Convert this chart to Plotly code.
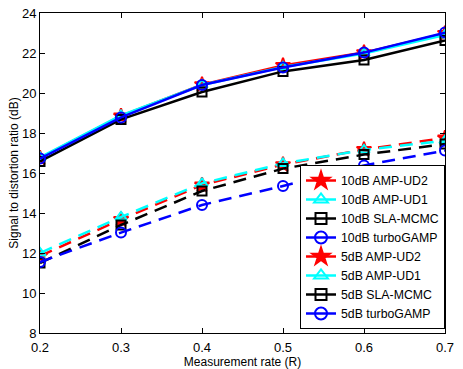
import plotly.graph_objects as go

rates = [0.2, 0.3, 0.4, 0.5, 0.6, 0.7]

amp_ud2_10 = [16.75, 18.85, 20.42, 21.38, 22.02, 22.98]
amp_ud1_10 = [16.78, 18.88, 20.40, 21.30, 21.97, 22.90]
sla_10 = [16.58, 18.68, 20.05, 21.08, 21.65, 22.63]
turbo_10 = [16.72, 18.78, 20.40, 21.27, 22.02, 23.02]

amp_ud2_5 = [11.85, 13.68, 15.40, 16.42, 17.18, 17.75]
amp_ud1_5 = [12.00, 13.80, 15.48, 16.48, 17.15, 17.62]
sla_5 = [11.50, 13.40, 15.10, 16.22, 16.92, 17.45]
turbo_5 = [11.55, 13.02, 14.40, 15.35, 16.38, 17.12]

names = ["10dB AMP-UD2", "10dB AMP-UD1", "10dB SLA-MCMC", "10dB turboGAMP",
         "5dB AMP-UD2", "5dB AMP-UD1", "5dB SLA-MCMC", "5dB turboGAMP"]
series = [amp_ud2_10, amp_ud1_10, sla_10, turbo_10, amp_ud2_5, amp_ud1_5, sla_5, turbo_5]
colors = ["#ff0000", "#00ffff", "#000000", "#0000ff"] * 2
symbols = ["star", "triangle-up-open", "square-open", "circle-open"] * 2
sizes = [11, 10, 9, 10] * 2
dashes = ["solid"] * 4 + ["13px,8px"] * 4

fig = go.Figure()
for name, ys, c, s, sz, d in zip(names, series, colors, symbols, sizes, dashes):
    fig.add_trace(go.Scatter(
        x=rates, y=ys, name=name, mode="lines+markers", showlegend=False,
        line=dict(color=c, width=2.5, dash=d),
        marker=dict(symbol=s, size=sz, color=c, line=dict(color=c, width=2)),
    ))
# legend entries (MATLAB legend shows solid line samples)
for name, c, s, sz in zip(names, colors, symbols, sizes):
    fig.add_trace(go.Scatter(
        x=[None], y=[None], name=name, mode="lines+markers",
        line=dict(color=c, width=2.5),
        marker=dict(symbol=s, size=sz + 2, color=c, line=dict(color=c, width=2)),
    ))

tick_font = dict(family="Liberation Sans, Arial", size=13, color="black")
title_font = dict(family="Liberation Sans, Arial", size=12, color="black")
axis_common = dict(
    showgrid=False, zeroline=False, showline=True, linecolor="black", linewidth=1,
    mirror="ticks", ticks="inside", ticklen=5, tickcolor="black",
    tickfont=tick_font, automargin=False,
)
fig.update_xaxes(range=[0.2, 0.7], tickvals=[0.2, 0.3, 0.4, 0.5, 0.6, 0.7],
                 ticktext=["0.2", "0.3", "0.4", "0.5", "0.6", "0.7"],
                 ticklabelstandoff=2,
                 title=dict(text="Measurement rate (R)", standoff=0, font=title_font),
                 **axis_common)
fig.update_yaxes(range=[8, 24], tickvals=[8, 10, 12, 14, 16, 18, 20, 22, 24],
                 ticklabelstandoff=0,
                 title=dict(text="Signal to distortion ratio (dB)", standoff=0, font=title_font),
                 **axis_common)

fig.update_layout(
    width=463, height=369,
    margin=dict(l=40, r=18, t=13, b=36),
    paper_bgcolor="white", plot_bgcolor="white",
    font=dict(family="Liberation Sans, Arial", size=12, color="black"),
    legend=dict(x=1, xanchor="right", y=0.0125, yanchor="bottom",
                bgcolor="white", bordercolor="black", borderwidth=1,
                font=dict(family="Liberation Sans, Arial", size=12.3, color="black"),
                tracegroupgap=0),
    showlegend=True,
)

fig.write_html("out.html", config={"displayModeBar": False},
               post_script="document.body.style.margin='0';document.body.style.overflow='hidden';")
